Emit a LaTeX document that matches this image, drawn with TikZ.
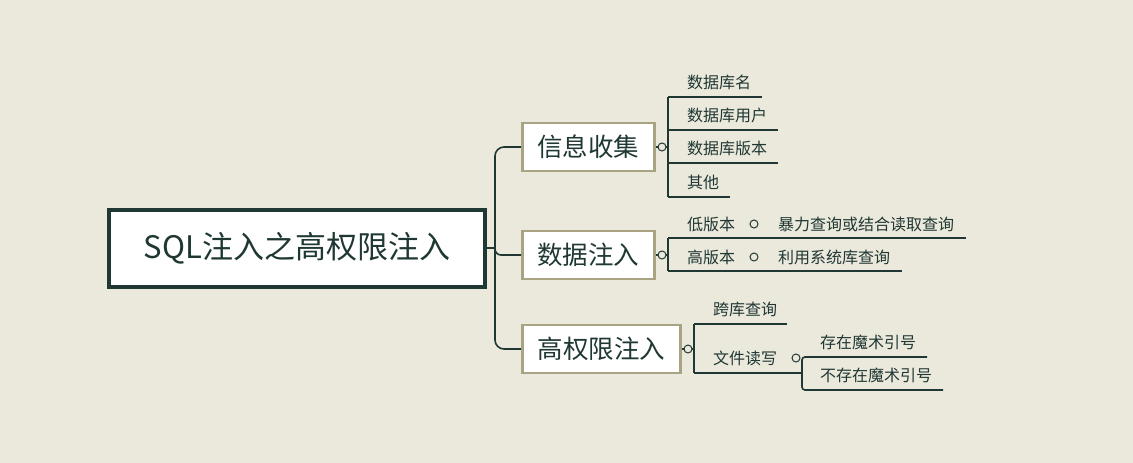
\documentclass[tikz,border=0pt]{standalone}
\usepackage{fontspec}
\setmainfont{Noto Sans CJK SC}
\usepackage{xcolor}
\usetikzlibrary{positioning,calc}
\definecolor{bgpaper}{HTML}{EBE8DC}
\definecolor{inkdark}{HTML}{1F3833}
\definecolor{boxtan}{HTML}{A9A383}
\tikzset{
    rootbox/.style={draw=inkdark, line width=4pt, fill=white, minimum width=376pt, minimum height=77pt, font=\fontsize{31}{31}\selectfont, text=inkdark},
    topicbox/.style={draw=boxtan, line width=2.5pt, fill=white, minimum height=48pt, font=\fontsize{25.5}{25.5}\selectfont, text=inkdark, anchor=west},
    leaf/.style={anchor=west, font=\fontsize{16}{16}\selectfont, text=inkdark, inner sep=0pt},
    wire/.style={draw=inkdark, line width=1.6pt},
    knob/.style={draw=inkdark, line width=1pt, fill=bgpaper},
}
\begin{document}
\begin{tikzpicture}[x=1pt, y=-1pt]
    \fill[bgpaper] (0,0) rectangle (1133,463);
    \useasboundingbox (0,0) rectangle (1133,463);

    % Root and main branches
    \node[rootbox] (root) at (297,248) {SQL注入之高权限注入};
    \node[topicbox, minimum width=132pt] (info) at (521,147) {信息收集};
    \node[topicbox, minimum width=132pt] (data) at (521,255) {数据注入};
    \node[topicbox, minimum width=158pt] (priv) at (521,349) {高权限注入};
    \coordinate (hub) at (495,248);
    \draw[wire] (root.east) -- (hub);
    \draw[wire, rounded corners=9pt] (info.west) -- (495,147) -- (495,349) -- (priv.west);
    \draw[wire, rounded corners=6pt] (495,240) -- (495,255) -- (data.west);

    % Info gathering
    \draw[wire] (668,97) -- (668,197);
    \foreach \y/\len/\txt [count=\i] in {97/762/数据库名, 130/778/数据库用户, 163/778/数据库版本, 197/730/其他} {
        \draw[wire] (668,\y) -- (\len,\y);
        \node[leaf] (info\i) at (687,\y-15) {\txt};
    }
    \draw[wire] (info.east) -- (668,147);
    \draw[knob] (662,147) circle (4);

    % Data injection
    \draw[wire] (668,238) -- (668,271);
    \draw[wire] (668,238) -- (966,238);
    \draw[wire] (668,271) -- (902,271);
    \draw[wire] (data.east) -- (668,255);
    \draw[knob] (662,255) circle (4);
    \node[leaf] (low) at (687,224) {低版本};
    \node[leaf] (lowhow) at (778,224) {暴力查询或结合读取查询};
    \draw[knob] (754,224) circle (4);
    \node[leaf] (high) at (687,257) {高版本};
    \node[leaf] (highhow) at (778,257) {利用系统库查询};
    \draw[knob] (754,257) circle (4);

    % High privilege injection
    \draw[wire] (priv.east) -- (694,349);
    \draw[wire] (694,324) -- (694,373);
    \draw[wire] (694,324) -- (787,324);
    \draw[wire] (694,373) -- (802,373);
    \draw[knob] (688,349) circle (4);
    \node[leaf] (cross) at (713,309) {跨库查询};
    \node[leaf] (file) at (713,358) {文件读写};
    \draw[knob] (796,358) circle (4);
    \draw[wire, rounded corners=3pt] (927,357) -- (802,357) -- (802,390) -- (943,390);
    \node[leaf] (magic) at (820,342) {存在魔术引号};
    \node[leaf] (nomagic) at (820,375) {不存在魔术引号};
\end{tikzpicture}
\end{document}
